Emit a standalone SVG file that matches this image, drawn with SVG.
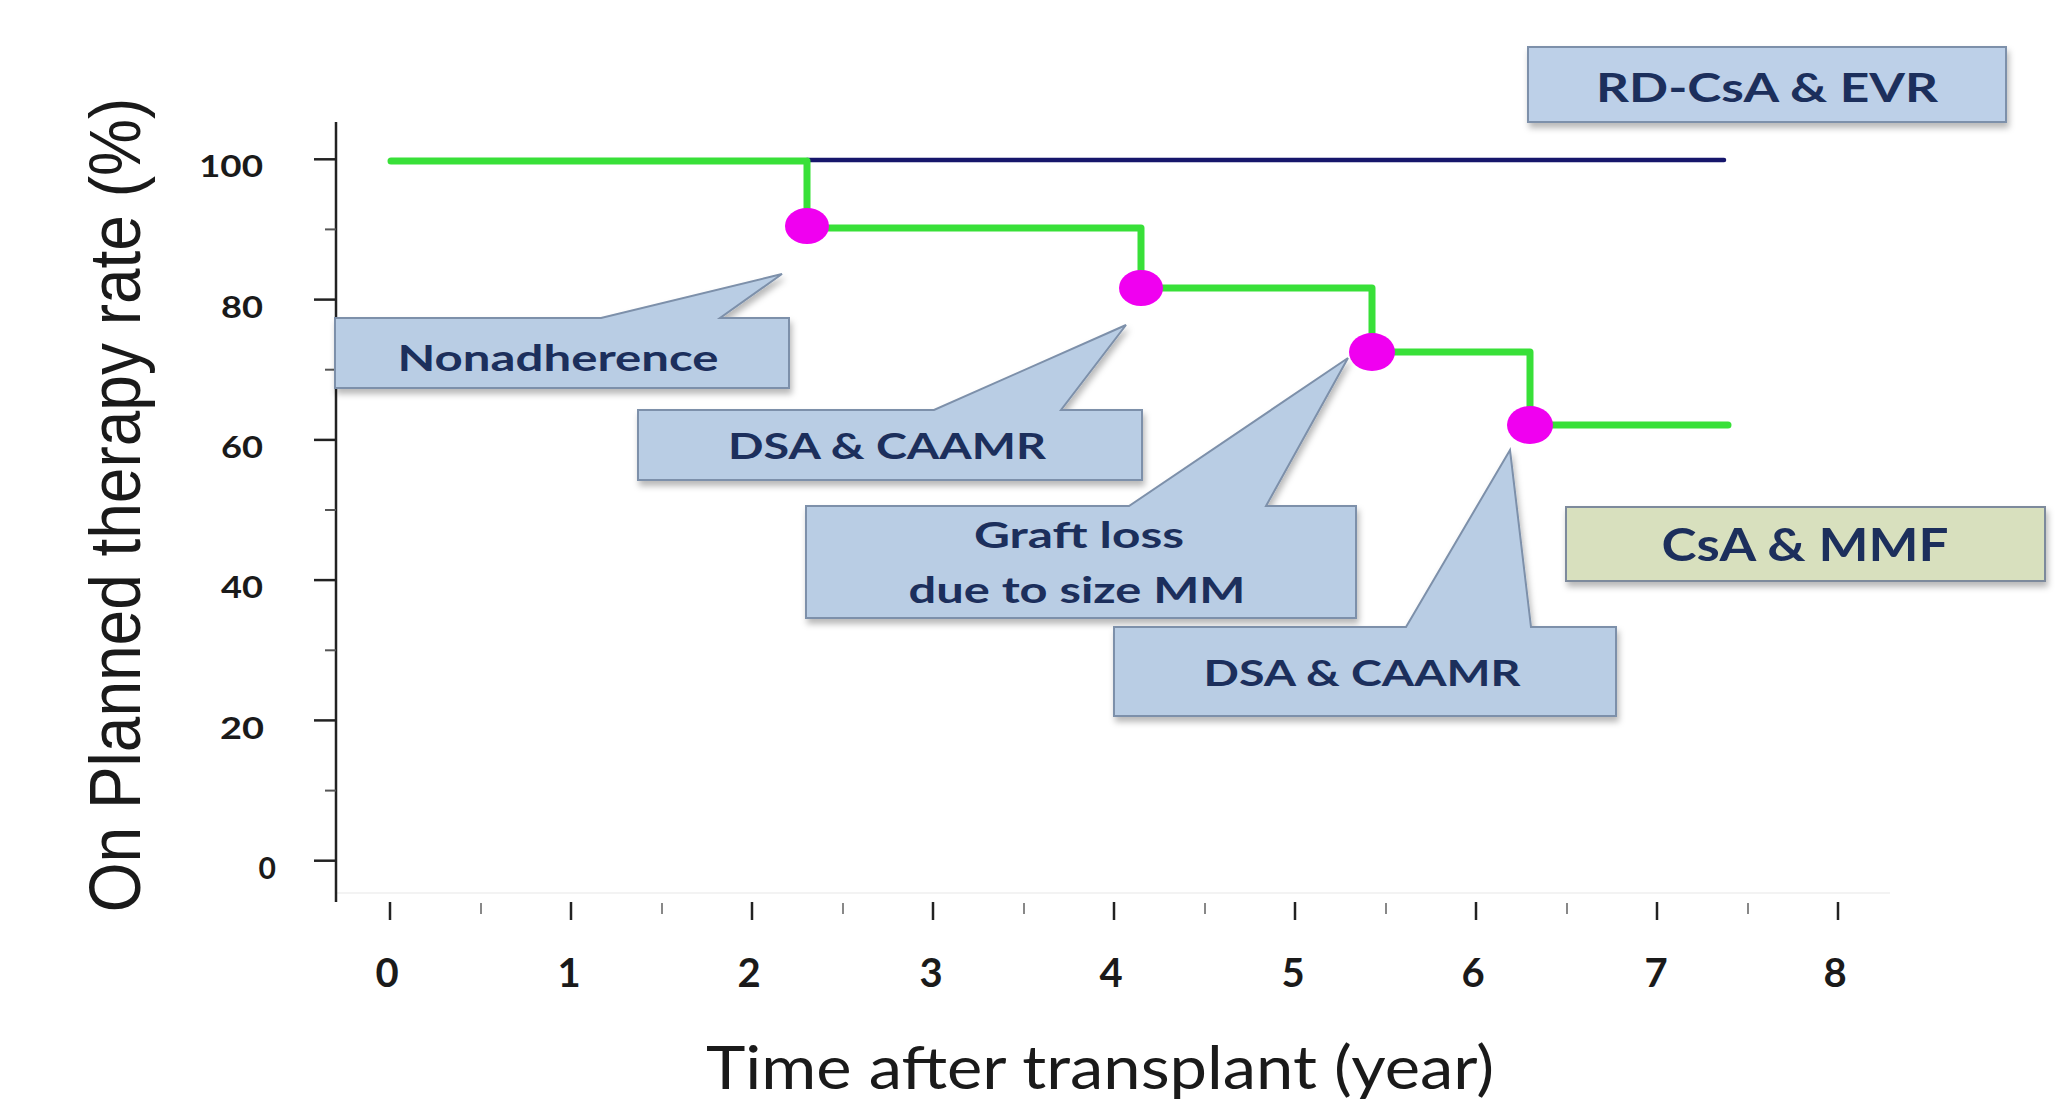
<svg xmlns="http://www.w3.org/2000/svg" width="2055" height="1101" viewBox="0 0 2055 1101">
<style>
.callout{fill:#b9cde4;stroke:#7d90aa;stroke-width:2;filter:url(#sh)}
.box-blue{fill:#bdd0e8;stroke:#7d90aa;stroke-width:2;filter:url(#sh)}
.box-green{fill:#d8e0be;stroke:#7d8a9c;stroke-width:2;filter:url(#sh)}
.ctext{font-family:Lato,"Open Sans","Liberation Sans",sans-serif;font-weight:bold;fill:#1c2f5c;text-anchor:middle}
.ylab{font-family:Lato,"Open Sans","Liberation Sans",sans-serif;font-weight:bold;font-size:30px;fill:#1a1a1a;text-anchor:end}
.xlab{font-family:Lato,"Open Sans","Liberation Sans",sans-serif;font-weight:bold;font-size:40px;fill:#1a1a1a;text-anchor:middle}
.major{stroke:#222;stroke-width:2.5}
.minor{stroke:#555;stroke-width:2}
.xminor{stroke:#888;stroke-width:2}
.step{fill:none;stroke:#38e038;stroke-width:7;stroke-linejoin:round;stroke-linecap:round}
.dot{fill:#f000f0}
</style>
<defs>
<filter id="sh" x="-10%" y="-20%" width="120%" height="150%">
<feDropShadow dx="2" dy="5" stdDeviation="3" flood-color="#000" flood-opacity="0.28"/>
</filter>
</defs>
<rect width="2055" height="1101" fill="#ffffff"/>

<g id="axes">
<line x1="336" y1="893" x2="1890" y2="893" stroke="#f3f3f3" stroke-width="2"/>
<line x1="336" y1="122" x2="336" y2="902" stroke="#222" stroke-width="2.5"/>
<line class="major" x1="314" y1="860.7" x2="336" y2="860.7"/>
<line class="minor" x1="325" y1="790.6" x2="336" y2="790.6"/>
<line class="major" x1="314" y1="720.4" x2="336" y2="720.4"/>
<line class="minor" x1="325" y1="650.3" x2="336" y2="650.3"/>
<line class="major" x1="314" y1="580.1" x2="336" y2="580.1"/>
<line class="minor" x1="325" y1="510" x2="336" y2="510"/>
<line class="major" x1="314" y1="439.9" x2="336" y2="439.9"/>
<line class="minor" x1="325" y1="369.7" x2="336" y2="369.7"/>
<line class="major" x1="314" y1="299.6" x2="336" y2="299.6"/>
<line class="minor" x1="325" y1="229.4" x2="336" y2="229.4"/>
<line class="major" x1="314" y1="159.3" x2="336" y2="159.3"/>
<text class="ylab" x="263" y="177" textLength="64" lengthAdjust="spacingAndGlyphs">100</text>
<text class="ylab" x="263" y="318" textLength="42" lengthAdjust="spacingAndGlyphs">80</text>
<text class="ylab" x="263" y="458" textLength="42" lengthAdjust="spacingAndGlyphs">60</text>
<text class="ylab" x="263" y="598" textLength="42" lengthAdjust="spacingAndGlyphs">40</text>
<text class="ylab" x="264" y="739" textLength="44" lengthAdjust="spacingAndGlyphs">20</text>
<text class="ylab" x="276" y="879">0</text>

<line class="major" x1="390" y1="902" x2="390" y2="920"/>
<line class="xminor" x1="481" y1="903" x2="481" y2="914"/>
<line class="major" x1="571" y1="902" x2="571" y2="920"/>
<line class="xminor" x1="662" y1="903" x2="662" y2="914"/>
<line class="major" x1="752" y1="902" x2="752" y2="920"/>
<line class="xminor" x1="843" y1="903" x2="843" y2="914"/>
<line class="major" x1="933" y1="902" x2="933" y2="920"/>
<line class="xminor" x1="1024" y1="903" x2="1024" y2="914"/>
<line class="major" x1="1114" y1="902" x2="1114" y2="920"/>
<line class="xminor" x1="1205" y1="903" x2="1205" y2="914"/>
<line class="major" x1="1295" y1="902" x2="1295" y2="920"/>
<line class="xminor" x1="1386" y1="903" x2="1386" y2="914"/>
<line class="major" x1="1476" y1="902" x2="1476" y2="920"/>
<line class="xminor" x1="1567" y1="903" x2="1567" y2="914"/>
<line class="major" x1="1657" y1="902" x2="1657" y2="920"/>
<line class="xminor" x1="1748" y1="903" x2="1748" y2="914"/>
<line class="major" x1="1838" y1="902" x2="1838" y2="920"/>
<text class="xlab" x="387" y="987">0</text>
<text class="xlab" x="569" y="987">1</text>
<text class="xlab" x="749" y="987">2</text>
<text class="xlab" x="931" y="987">3</text>
<text class="xlab" x="1111" y="987">4</text>
<text class="xlab" x="1293" y="987">5</text>
<text class="xlab" x="1473" y="987">6</text>
<text class="xlab" x="1656" y="987">7</text>
<text class="xlab" x="1835" y="987">8</text>

<text x="1100" y="1089" font-family="Lato,'Open Sans','Liberation Sans',sans-serif" font-size="60" fill="#1a1a1a" text-anchor="middle" textLength="788" lengthAdjust="spacingAndGlyphs">Time after transplant (year)</text>
<text transform="translate(140,505) scale(1.13,1) rotate(-90)" x="0" y="0" font-family="'Liberation Sans',Arial,sans-serif" font-size="64" fill="#1a1a1a" text-anchor="middle">On Planned therapy rate (%)</text>
</g>

<g id="connectors">
<line x1="807" y1="160" x2="1724" y2="160" stroke="#16166b" stroke-width="4.5" stroke-linecap="round"/>
<path class="step" d="M391,161 H807 V228 H1141 V288 H1372 V352 H1530 V425 H1728"/>
<ellipse class="dot" cx="807" cy="226" rx="22" ry="18"/>
<ellipse class="dot" cx="1141" cy="288" rx="22" ry="18"/>
<ellipse class="dot" cx="1372" cy="352" rx="23" ry="19"/>
<ellipse class="dot" cx="1530" cy="425" rx="23" ry="19"/>
</g>

<g id="node-rd-csa-evr">
<rect class="box-blue" x="1528" y="47" width="478" height="75"/>
<text class="ctext" x="1767" y="102" font-size="41" textLength="342" lengthAdjust="spacingAndGlyphs">RD-CsA &amp; EVR</text>
</g>

<g id="node-csa-mmf">
<rect class="box-green" x="1566" y="507" width="479" height="74"/>
<text class="ctext" x="1805" y="561" font-size="45" textLength="287" lengthAdjust="spacingAndGlyphs">CsA &amp; MMF</text>
</g>

<g id="node-nonadherence">
<path class="callout" d="M335,318 L601,318 L782,274 L720,318 L789,318 L789,388 L335,388 Z"/>
<text class="ctext" x="558" y="371" font-size="37" textLength="321" lengthAdjust="spacingAndGlyphs">Nonadherence</text>
</g>

<g id="node-dsa-caamr-1">
<path class="callout" d="M638,410 L934,410 L1126,325 L1061,410 L1142,410 L1142,480 L638,480 Z"/>
<text class="ctext" x="887" y="459" font-size="36" textLength="318" lengthAdjust="spacingAndGlyphs">DSA &amp; CAAMR</text>
</g>

<g id="node-graft-loss">
<path class="callout" d="M806,506 L1129,506 L1348,358 L1266,506 L1356,506 L1356,618 L806,618 Z"/>
<text class="ctext" x="1079" y="548" font-size="36" textLength="210" lengthAdjust="spacingAndGlyphs">Graft loss</text>
<text class="ctext" x="1077" y="603" font-size="36" textLength="337" lengthAdjust="spacingAndGlyphs">due to size MM</text>
</g>

<g id="node-dsa-caamr-2">
<path class="callout" d="M1114,627 L1406,627 L1510,450 L1531,627 L1616,627 L1616,716 L1114,716 Z"/>
<text class="ctext" x="1362" y="686" font-size="36" textLength="317" lengthAdjust="spacingAndGlyphs">DSA &amp; CAAMR</text>
</g>
</svg>
